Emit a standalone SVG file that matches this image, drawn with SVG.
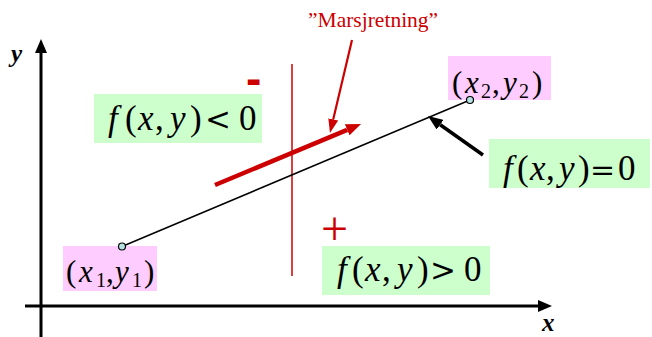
<svg xmlns="http://www.w3.org/2000/svg" width="652" height="337" viewBox="0 0 652 337">
<style>
.green{fill:#ccffcc}
.pink{fill:#ffccff}
.red{fill:#cc0000}
</style>
<defs>
<marker id="ahK" markerUnits="userSpaceOnUse" viewBox="0 -6 14 12" markerWidth="14" markerHeight="12" refX="0" refY="0" orient="auto"><path d="M0,-6 L14,0 L0,6 z" fill="#000"/></marker>
<marker id="ahK2" markerUnits="userSpaceOnUse" viewBox="0 -6 15 12" markerWidth="15" markerHeight="12" refX="0" refY="0" orient="auto"><path d="M0,-6 L15,0 L0,6 z" fill="#000"/></marker>
<marker id="ahR" markerUnits="userSpaceOnUse" viewBox="0 -6 15 12" markerWidth="15" markerHeight="12" refX="0" refY="0" orient="auto"><path d="M0,-6 L15,0 L0,6 z" fill="#cc0000"/></marker>
<marker id="ahR2" markerUnits="userSpaceOnUse" viewBox="0 -5 14 10" markerWidth="14" markerHeight="10" refX="0" refY="0" orient="auto"><path d="M0,-5 L14,0 L0,5 z" fill="#cc0000"/></marker>
</defs>

<g id="axes">
<line x1="41" y1="337" x2="41" y2="53" stroke="#000" stroke-width="3" marker-end="url(#ahK)"/>
<line x1="25" y1="306" x2="538" y2="306" stroke="#000" stroke-width="3" marker-end="url(#ahK)"/>
<text x="11" y="62" font-family="'Liberation Serif','Times New Roman',serif" font-style="italic" font-size="25" font-weight="bold">y</text>
<text x="542" y="331" font-family="'Liberation Serif','Times New Roman',serif" font-style="italic" font-size="25" font-weight="bold">x</text>
</g>

<g id="divider">
<line x1="292" y1="64" x2="292" y2="276" stroke="#cc0000" stroke-width="1.5"/>
</g>

<g id="connectors">
<line x1="122" y1="246.5" x2="470" y2="100" stroke="#000" stroke-width="1.5"/>
<line x1="215" y1="185" x2="347.2" y2="129.8" stroke="#cc0000" stroke-width="4.5" marker-end="url(#ahR)"/>
<line x1="352" y1="40" x2="333.2" y2="119.4" stroke="#cc0000" stroke-width="2.2" marker-end="url(#ahR2)"/>
<line x1="483" y1="155" x2="440.2" y2="124.7" stroke="#000" stroke-width="3.5" marker-end="url(#ahK2)"/>
</g>

<g id="p1">
<rect class="pink" x="63" y="246" width="94" height="45"/>
<text font-family="'Liberation Serif','Times New Roman',serif" y="282" font-size="31"><tspan x="66">(</tspan><tspan font-style="italic" x="79">x</tspan><tspan x="96" font-size="20" dy="5">1</tspan><tspan x="106" dy="-5">,</tspan><tspan font-style="italic" x="115">y</tspan><tspan x="132" font-size="20" dy="5">1</tspan><tspan x="144" dy="-5">)</tspan></text>
<circle cx="122" cy="246.5" r="3.5" fill="#b4e1e1" stroke="#000" stroke-width="1.2"/>
</g>

<g id="p2">
<rect class="pink" x="448" y="56" width="103" height="44"/>
<text font-family="'Liberation Serif','Times New Roman',serif" y="93" font-size="31"><tspan x="452">(</tspan><tspan font-style="italic" x="465">x</tspan><tspan x="481" font-size="20" dy="5">2</tspan><tspan x="492" dy="-5">,</tspan><tspan font-style="italic" x="503">y</tspan><tspan x="519" font-size="20" dy="5">2</tspan><tspan x="532" dy="-5">)</tspan></text>
<circle cx="470" cy="100" r="3.5" fill="#b4e1e1" stroke="#000" stroke-width="1.2"/>
</g>

<g id="neg">
<rect class="green" x="94" y="94" width="168" height="49"/>
<text font-family="'Liberation Serif','Times New Roman',serif" y="130" font-size="35"><tspan font-style="italic" x="108">f</tspan><tspan x="125">(</tspan><tspan font-style="italic" x="138">x</tspan><tspan x="155">,</tspan><tspan font-style="italic" x="170">y</tspan><tspan x="190">)</tspan><tspan x="239">0</tspan></text>
<text font-family="'DejaVu Serif',serif" x="205" y="130" font-size="31">&lt;</text>
<text x="246" y="94" font-family="'Liberation Sans',Arial,sans-serif" font-size="46" font-weight="bold" class="red">-</text>
</g>

<g id="zero">
<rect class="green" x="489" y="139" width="161" height="49"/>
<text font-family="'Liberation Serif','Times New Roman',serif" y="180" font-size="35"><tspan font-style="italic" x="503">f</tspan><tspan x="517">(</tspan><tspan font-style="italic" x="530">x</tspan><tspan x="546">,</tspan><tspan font-style="italic" x="559">y</tspan><tspan x="578">)</tspan><tspan x="618">0</tspan></text>
<text font-family="'DejaVu Serif',serif" x="590" y="180" font-size="30">=</text>
</g>

<g id="pos">
<rect class="green" x="322" y="246" width="168" height="49"/>
<text font-family="'Liberation Serif','Times New Roman',serif" y="281" font-size="35"><tspan font-style="italic" x="337">f</tspan><tspan x="352">(</tspan><tspan font-style="italic" x="365">x</tspan><tspan x="382">,</tspan><tspan font-style="italic" x="397">y</tspan><tspan x="417">)</tspan><tspan x="464">0</tspan></text>
<text font-family="'DejaVu Serif',serif" x="430" y="281" font-size="31">&gt;</text>
<text x="321" y="245" font-family="'Liberation Serif',serif" font-size="48" class="red">+</text>
</g>

<g id="label">
<text x="308" y="27" font-family="'Liberation Serif',serif" font-size="21.5" class="red">”Marsjretning”</text>
</g>
</svg>
